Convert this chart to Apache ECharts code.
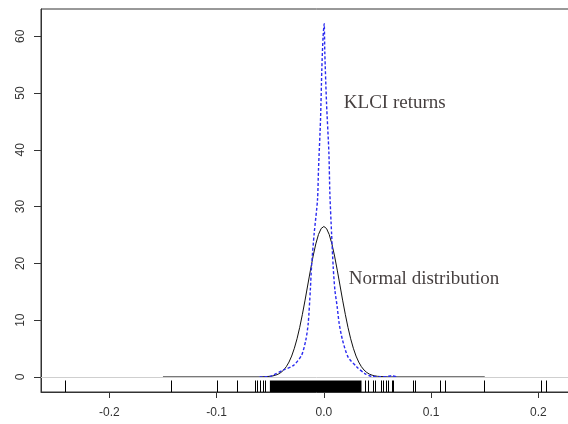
<!DOCTYPE html>
<html>
<head>
<meta charset="utf-8">
<script src="https://cdn.jsdelivr.net/npm/echarts@6/dist/echarts.min.js"></script>
<style>
  html, body { margin: 0; padding: 0; overflow: hidden; background: #fff; }
  #main { width: 600px; height: 424px; }
</style>
</head>
<body>
<div id="main"></div>
<script>
// axis ticks
const xTicks = [-0.2, -0.1, 0.0, 0.1, 0.2];
const yTicks = [0, 10, 20, 30, 40, 50, 60];

// kernel density of KLCI returns (blue, dotted)
const klciX = [-0.06, -0.0503, -0.0473, -0.0379, -0.0286, -0.0208, -0.0168, -0.0146, -0.0126, -0.0115, -0.009, -0.0059, -0.005, -0.0031, -0.0019, -0.0007, 0.0003, 0.0009, 0.0025, 0.0047, 0.0056, 0.0072, 0.0087, 0.0103, 0.0124, 0.0143, 0.0174, 0.0226, 0.0305, 0.0382, 0.0445, 0.052, 0.058, 0.063, 0.069];
const klciY = [0, 0.1, 0.3, 1.2, 2.0, 3.8, 6.5, 9.4, 15.3, 19.4, 25.3, 31.2, 36.5, 45.3, 54.1, 60, 62.2, 57.1, 48.2, 39.5, 32.4, 25.3, 19.4, 15.3, 12.4, 9.4, 6.5, 3.5, 1.8, 0.6, 0.1, 0.05, 0.05, 0.2, 0];

// normal density (black)
const normX = [-0.15, -0.06, -0.05, -0.0475, -0.045, -0.0425, -0.04, -0.0375, -0.035, -0.0325, -0.03, -0.0275, -0.025, -0.0225, -0.02, -0.0175, -0.015, -0.0125, -0.01, -0.0075, -0.005, -0.0025, 0,
               0.0025, 0.005, 0.0075, 0.01, 0.0125, 0.015, 0.0175, 0.02, 0.0225, 0.025, 0.0275, 0.03, 0.0325, 0.035, 0.0375, 0.04, 0.0425, 0.045, 0.0475, 0.05, 0.06, 0.15];
const normY = [0, 0, 0.11, 0.19, 0.31, 0.5, 0.79, 1.21, 1.81, 2.62, 3.68, 5.05, 6.73, 8.73, 11.03, 13.53, 16.19, 18.81, 21.29, 23.43, 25.09, 26.14, 26.5,
               26.14, 25.09, 23.43, 21.29, 18.81, 16.19, 13.53, 11.03, 8.73, 6.73, 5.05, 3.68, 2.62, 1.81, 1.21, 0.79, 0.5, 0.31, 0.19, 0.11, 0, 0];

// rug of observed returns: single ticks and the dense solid band
const rugTicks = [-0.2414, -0.1429, -0.1, -0.0808, -0.0643, -0.0622, -0.0599, -0.0571, -0.055, 0.0382, 0.0413, 0.0454, 0.0475, 0.0531, 0.0553, 0.0575, 0.0594, 0.0631, 0.0646, 0.0827, 0.0848, 0.108, 0.1134, 0.149, 0.2022, 0.2075];
const rugBands = [[-0.0503, 0.0351]];

// text annotations
const noteText = ['KLCI returns', 'Normal distribution'];
const noteX = [0.0186, 0.0233];
const noteY = [48.3, 17.2];

const X_MIN = -0.2637, X_MAX = 0.25;
const Y_MIN = -2.65, Y_MAX = 64.8;
const RUG_LEN = 11.5;

const chart = echarts.init(document.getElementById('main'));

const zip = (a, b) => a.map((v, i) => [v, b[i]]);

const option = {
  animation: false,
  backgroundColor: '#fff',
  grid: {
    left: 41, top: 9, right: 8, bottom: 32,
    show: true, borderColor: '#333', borderWidth: 1, backgroundColor: 'transparent'
  },
  xAxis: {
    type: 'value', min: X_MIN, max: X_MAX,
    axisLine: { show: true, onZero: false, lineStyle: { color: '#333' } },
    axisTick: { show: true, length: 6, customValues: xTicks, lineStyle: { color: '#333' } },
    axisLabel: {
      customValues: xTicks, margin: 15, color: '#333', fontSize: 12,
      fontFamily: 'Liberation Sans, Arial, sans-serif',
      formatter: v => v.toFixed(1)
    },
    splitLine: { show: false }
  },
  yAxis: {
    type: 'value', min: Y_MIN, max: Y_MAX,
    axisLine: { show: true, onZero: false, lineStyle: { color: '#333' } },
    axisTick: { show: true, length: 7, customValues: yTicks, lineStyle: { color: '#333' } },
    axisLabel: {
      customValues: yTicks, rotate: 90, margin: 14, color: '#333', fontSize: 12,
      fontFamily: 'Liberation Sans, Arial, sans-serif'
    },
    splitLine: { show: false }
  },
  series: [
    {
      // gray zero line
      type: 'line', data: [], silent: true,
      markLine: {
        symbol: ['none', 'none'], silent: true, label: { show: false },
        lineStyle: { color: '#cfcfcf', type: 'solid', width: 1 },
        data: [{ yAxis: 0 }]
      }
    },
    {
      name: 'Normal', type: 'line', data: zip(normX, normY),
      smooth: false, showSymbol: false,
      lineStyle: { color: '#111', width: 1 }
    },
    {
      name: 'KLCI', type: 'line', data: zip(klciX, klciY),
      smooth: 0.25, showSymbol: false,
      lineStyle: { color: '#2b2bf0', width: 1.4, type: [3, 2] }
    },
    {
      // rug ticks
      type: 'custom', silent: true,
      data: rugTicks.map(v => [v]),
      renderItem: (params, api) => {
        const p = api.coord([api.value(0), Y_MIN]);
        const x = Math.round(p[0]) + 0.5;
        return {
          type: 'line',
          shape: { x1: x, y1: p[1], x2: x, y2: p[1] - RUG_LEN },
          style: { stroke: '#000', lineWidth: 1 }
        };
      }
    },
    {
      // rug dense band
      type: 'custom', silent: true,
      data: rugBands,
      renderItem: (params, api) => {
        const a = api.coord([api.value(0), Y_MIN]);
        const b = api.coord([api.value(1), Y_MIN]);
        return {
          type: 'rect',
          shape: { x: a[0], y: a[1] - RUG_LEN, width: b[0] - a[0], height: RUG_LEN },
          style: { fill: '#000' }
        };
      }
    },
    {
      // annotations
      type: 'scatter', silent: true, symbolSize: 0,
      data: noteText.map((t, i) => ({ value: [noteX[i], noteY[i]], name: t })),
      label: {
        show: true, position: 'right', distance: 0,
        formatter: p => p.name,
        color: '#140c0c', fontSize: 19,
        fontFamily: 'Liberation Serif, Times New Roman, serif'
      }
    }
  ]
};

option && chart.setOption(option);
</script>
</body>
</html>
